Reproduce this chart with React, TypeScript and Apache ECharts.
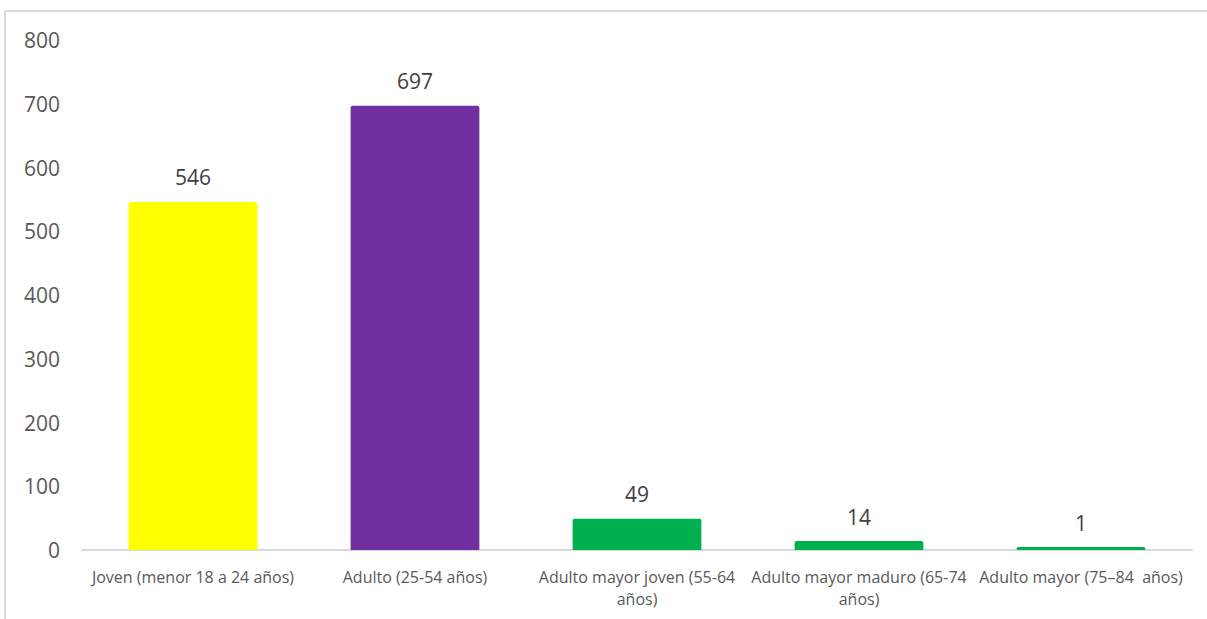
import React, { useEffect, useRef } from "react";
import * as echarts from "echarts";

const categories = [
  "Joven (menor 18 a 24 años)",
  "Adulto (25-54 años)",
  "Adulto mayor joven (55-64\naños)",
  "Adulto mayor maduro (65-74\naños)",
  "Adulto mayor (75–84  años)",
];
const values = [546, 697, 49, 14, 1];
const barColors = ["#FFFF00", "#7030A0", "#00B050", "#00B050", "#00B050"];
const yTicks = { min: 0, max: 800, interval: 100 };

export default function App() {
  const ref = useRef<HTMLDivElement>(null);
  useEffect(() => {
    if (!ref.current) return;
    const chart = echarts.init(ref.current, undefined, { renderer: "svg" });
    chart.setOption({
      animation: false,
      backgroundColor: "#ffffff",
      textStyle: { fontFamily: "Open Sans, Noto Sans, sans-serif" },
      graphic: [
        { type: "line", shape: { x1: 5, y1: 11, x2: 1207, y2: 11 }, style: { stroke: "#d9d9d9", lineWidth: 2 } },
        { type: "line", shape: { x1: 5, y1: 11, x2: 5, y2: 619 }, style: { stroke: "#d9d9d9", lineWidth: 2 } },
      ],
      grid: { left: 82, right: 15, top: 40, bottom: 69, containLabel: false },
      xAxis: {
        type: "category",
        data: categories,
        axisLine: { show: true, lineStyle: { color: "#d9d9d9", width: 2 } },
        axisTick: { show: false },
        axisLabel: { color: "#595959", fontSize: 16, margin: 16, interval: 0, lineHeight: 22 },
      },
      yAxis: {
        type: "value",
        min: yTicks.min,
        max: yTicks.max,
        interval: yTicks.interval,
        splitLine: { show: false },
        axisLine: { show: false },
        axisTick: { show: false },
        axisLabel: { color: "#595959", fontSize: 21, margin: 22 },
      },
      series: [
        {
          type: "bar",
          data: values.map((v, i) => ({ value: v, itemStyle: { color: barColors[i] } })),
          barWidth: "58%",
          barMinHeight: 3,
          itemStyle: { borderRadius: [2, 2, 0, 0] },
          label: { show: true, position: "top", distance: 14, color: "#404040", fontSize: 21 },
        },
      ],
    });
    return () => chart.dispose();
  }, []);
  return <div ref={ref} style={{ position: "fixed", left: 0, top: 0, width: 1207, height: 619 }} />;
}
